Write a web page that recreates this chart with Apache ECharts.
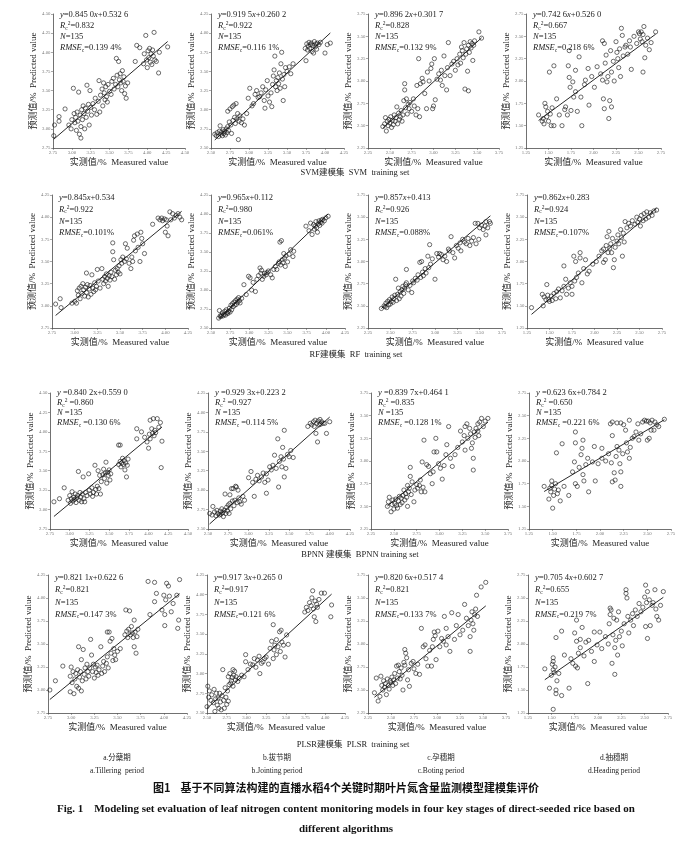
<!DOCTYPE html>
<html><head><meta charset="utf-8">
<script src="https://cdn.jsdelivr.net/npm/echarts/dist/echarts.min.js"></script>
<style>html,body{margin:0;padding:0;background:#fff}#c{width:692px;height:841px}</style>
</head><body><div id="c"></div><script>
// ---------- DATA ----------
const svmTiller=[[2.76,2.91],[2.77,3.05],[2.83,3.10],[2.83,3.16],[2.91,3.26],[2.96,3.05],[2.99,3.00],[3.00,3.12],[3.02,3.53],[3.03,3.20],[3.04,3.08],[3.05,3.15],[3.06,2.98],[3.07,3.22],[3.08,3.10],[3.09,3.48],[3.10,2.93],[3.11,3.18],[3.12,3.03],[3.12,2.88],[3.13,3.25],[3.14,3.12],[3.15,3.30],[3.16,3.20],[3.17,3.00],[3.18,3.27],[3.19,3.15],[3.20,3.57],[3.21,3.23],[3.22,3.32],[3.23,3.05],[3.24,3.50],[3.25,3.28],[3.26,3.18],[3.28,3.33],[3.30,3.25],[3.31,3.40],[3.33,3.19],[3.35,3.36],[3.36,3.63],[3.37,3.22],[3.38,3.44],[3.40,3.52],[3.41,3.30],[3.42,3.60],[3.43,3.47],[3.44,3.38],[3.45,3.55],[3.46,3.42],[3.47,3.35],[3.48,3.58],[3.50,3.49],[3.52,3.45],[3.53,3.62],[3.55,3.66],[3.56,3.52],[3.58,3.58],[3.59,3.92],[3.60,3.70],[3.61,3.55],[3.62,3.88],[3.63,3.64],[3.64,3.72],[3.65,3.60],[3.66,3.50],[3.67,3.76],[3.68,3.62],[3.69,3.68],[3.70,3.46],[3.71,3.56],[3.72,3.40],[3.74,3.60],[3.84,3.88],[3.86,4.09],[3.90,4.06],[3.95,3.85],[3.96,3.98],[3.98,4.22],[3.99,3.90],[4.00,3.80],[4.01,4.02],[4.02,3.93],[4.03,4.05],[4.04,3.87],[4.05,3.98],[4.06,3.84],[4.07,4.03],[4.08,3.95],[4.09,4.26],[4.10,3.90],[4.12,3.88],[4.15,3.73],[4.16,4.00],[4.27,4.07]];
const svmJoint=[[2.55,2.68],[2.57,2.66],[2.58,2.70],[2.60,2.65],[2.61,2.72],[2.62,2.79],[2.63,2.68],[2.64,2.71],[2.65,2.66],[2.66,2.74],[2.67,2.69],[2.68,2.72],[2.69,2.67],[2.70,2.75],[2.71,2.70],[2.72,2.98],[2.72,2.78],[2.73,2.73],[2.74,2.84],[2.75,3.01],[2.76,2.80],[2.77,2.69],[2.78,3.04],[2.79,2.86],[2.80,3.06],[2.81,2.90],[2.82,2.82],[2.83,3.08],[2.84,2.88],[2.85,2.95],[2.86,2.61],[2.87,2.85],[2.88,2.92],[2.90,2.83],[2.92,2.88],[2.94,2.80],[2.97,2.95],[2.99,3.15],[3.01,3.28],[3.04,3.05],[3.06,3.08],[3.08,3.20],[3.10,3.25],[3.12,3.16],[3.14,3.17],[3.16,3.22],[3.18,3.30],[3.20,3.12],[3.21,3.02],[3.22,3.26],[3.24,3.38],[3.25,3.18],[3.27,3.10],[3.29,3.22],[3.30,3.04],[3.31,3.33],[3.32,3.44],[3.33,3.52],[3.34,3.70],[3.35,3.30],[3.36,3.38],[3.37,3.25],[3.38,3.42],[3.39,3.34],[3.40,3.48],[3.41,3.28],[3.42,3.60],[3.43,3.75],[3.44,3.40],[3.45,3.12],[3.46,3.46],[3.47,3.30],[3.48,3.55],[3.50,3.50],[3.53,3.56],[3.55,3.47],[3.58,3.60],[3.74,3.80],[3.75,3.64],[3.76,3.86],[3.77,3.78],[3.78,3.83],[3.79,3.88],[3.80,3.80],[3.81,3.85],[3.82,3.87],[3.83,3.76],[3.84,3.84],[3.85,3.74],[3.86,3.89],[3.87,3.82],[3.88,3.86],[3.89,3.79],[3.90,3.87],[3.92,3.85],[3.94,3.88],[4.00,3.74],[4.03,3.85],[4.07,3.87]];
const svmBoot=[[2.42,2.49],[2.44,2.52],[2.45,2.59],[2.46,2.44],[2.47,2.55],[2.48,2.50],[2.49,2.57],[2.50,2.53],[2.51,2.60],[2.52,2.48],[2.53,2.56],[2.54,2.51],[2.55,2.62],[2.56,2.55],[2.57,2.59],[2.58,2.71],[2.59,2.52],[2.60,2.64],[2.61,2.57],[2.62,2.60],[2.63,2.67],[2.64,2.55],[2.65,2.62],[2.66,2.78],[2.67,2.97],[2.67,2.90],[2.68,2.70],[2.69,2.80],[2.70,2.63],[2.71,2.74],[2.72,2.69],[2.73,2.76],[2.75,2.66],[2.77,2.80],[2.78,2.72],[2.80,2.62],[2.81,2.95],[2.82,2.69],[2.83,3.25],[2.84,2.60],[2.85,2.97],[2.87,3.03],[2.88,2.99],[2.90,2.86],[2.92,2.69],[2.93,3.10],[2.95,3.00],[2.97,3.14],[2.98,3.19],[2.99,2.69],[3.00,2.72],[3.01,3.25],[3.02,2.79],[3.04,3.02],[3.06,3.08],[3.08,3.01],[3.09,3.12],[3.10,2.95],[3.12,3.28],[3.13,3.06],[3.15,2.90],[3.16,3.15],[3.17,3.43],[3.19,3.06],[3.21,3.19],[3.23,3.22],[3.25,3.12],[3.27,3.25],[3.28,3.18],[3.30,3.30],[3.31,3.20],[3.32,3.38],[3.33,3.34],[3.34,3.26],[3.35,3.43],[3.36,2.91],[3.37,3.30],[3.38,3.36],[3.39,3.11],[3.40,2.89],[3.40,3.40],[3.41,3.32],[3.42,3.44],[3.43,3.37],[3.44,3.42],[3.45,3.23],[3.46,3.40],[3.47,3.45],[3.52,3.55],[3.55,3.48]];
const svmHead=[[1.39,1.62],[1.43,1.55],[1.44,1.58],[1.45,1.52],[1.46,1.75],[1.47,1.71],[1.48,1.60],[1.49,1.66],[1.50,1.55],[1.51,2.10],[1.52,1.63],[1.53,1.50],[1.54,1.70],[1.56,1.50],[1.56,2.17],[1.59,1.80],[1.62,1.62],[1.65,1.50],[1.68,1.68],[1.69,1.71],[1.71,1.62],[1.72,2.17],[1.73,2.34],[1.73,2.04],[1.74,1.93],[1.75,1.67],[1.77,1.99],[1.78,1.82],[1.80,1.88],[1.80,2.12],[1.82,1.66],[1.84,2.27],[1.86,1.82],[1.87,1.50],[1.90,1.96],[1.91,2.01],[1.94,2.14],[1.95,1.73],[1.98,2.05],[2.01,1.93],[2.04,2.16],[2.08,2.08],[2.10,2.45],[2.10,2.01],[2.11,1.80],[2.12,2.42],[2.12,1.69],[2.13,2.20],[2.14,2.29],[2.15,1.99],[2.16,2.05],[2.17,1.58],[2.18,1.78],[2.19,2.34],[2.20,2.10],[2.20,1.71],[2.22,2.22],[2.23,2.00],[2.25,2.44],[2.26,2.32],[2.27,2.25],[2.28,2.15],[2.29,2.36],[2.30,2.05],[2.31,2.59],[2.32,2.51],[2.33,2.28],[2.35,2.38],[2.36,2.40],[2.38,2.30],[2.40,2.45],[2.41,2.38],[2.42,2.13],[2.45,2.50],[2.48,2.42],[2.50,2.55],[2.51,2.53],[2.52,2.47],[2.53,2.55],[2.54,2.44],[2.55,2.10],[2.55,2.52],[2.56,2.61],[2.57,2.26],[2.58,2.40],[2.60,2.48],[2.62,2.35],[2.64,2.43],[2.69,2.55]];
const rfTiller=[[2.79,3.02],[2.84,3.08],[2.85,2.98],[2.97,3.03],[3.00,3.05],[3.02,3.03],[3.03,3.17],[3.04,3.12],[3.05,3.20],[3.06,3.08],[3.07,3.22],[3.08,3.14],[3.09,3.25],[3.10,3.18],[3.11,3.11],[3.12,3.21],[3.13,3.37],[3.13,3.15],[3.14,3.24],[3.15,3.10],[3.16,3.19],[3.17,3.23],[3.18,3.13],[3.19,3.35],[3.20,3.20],[3.21,3.16],[3.22,3.26],[3.23,3.18],[3.24,3.22],[3.25,3.41],[3.26,3.28],[3.28,3.20],[3.30,3.42],[3.31,3.30],[3.32,3.25],[3.33,3.33],[3.34,3.28],[3.35,3.36],[3.36,3.31],[3.37,3.22],[3.38,3.34],[3.39,3.29],[3.40,3.38],[3.41,3.33],[3.42,3.71],[3.42,3.61],[3.43,3.52],[3.44,3.30],[3.45,3.40],[3.46,3.35],[3.47,3.42],[3.48,3.38],[3.49,3.45],[3.50,3.36],[3.51,3.52],[3.52,3.48],[3.53,3.55],[3.55,3.50],[3.56,3.70],[3.57,3.53],[3.58,3.65],[3.60,3.48],[3.62,3.42],[3.63,3.55],[3.64,3.50],[3.65,3.74],[3.66,3.79],[3.67,3.62],[3.69,3.81],[3.70,3.66],[3.72,3.50],[3.73,3.83],[3.74,3.76],[3.75,3.70],[3.77,3.59],[3.86,3.92],[3.92,3.99],[3.94,3.97],[3.96,3.99],[3.97,3.96],[3.99,3.98],[4.00,3.83],[4.01,3.97],[4.02,3.90],[4.03,3.79],[4.05,4.06],[4.06,3.97],[4.08,4.04],[4.10,3.99],[4.12,4.02],[4.14,4.04],[4.16,4.00],[4.18,3.97]];
const rfJoint=[[2.60,2.63],[2.61,2.73],[2.62,2.66],[2.63,2.65],[2.64,2.67],[2.65,2.70],[2.66,2.66],[2.67,2.68],[2.68,2.72],[2.69,2.67],[2.70,2.74],[2.71,2.70],[2.72,2.69],[2.73,2.72],[2.74,2.76],[2.75,2.71],[2.76,2.80],[2.77,2.74],[2.78,2.82],[2.79,2.78],[2.80,2.84],[2.81,2.80],[2.82,2.86],[2.83,2.81],[2.84,2.88],[2.85,2.84],[2.86,2.90],[2.87,2.86],[2.88,2.83],[2.90,2.89],[2.93,3.07],[2.96,2.94],[2.99,3.18],[3.01,3.16],[3.03,3.00],[3.05,3.10],[3.08,2.98],[3.10,3.14],[3.12,3.19],[3.14,3.29],[3.15,3.22],[3.16,3.26],[3.17,3.14],[3.19,3.18],[3.20,3.22],[3.22,3.20],[3.23,3.23],[3.25,3.25],[3.28,3.20],[3.30,3.16],[3.32,3.27],[3.34,3.31],[3.36,3.27],[3.38,3.35],[3.39,3.37],[3.40,3.63],[3.41,3.33],[3.42,3.65],[3.43,3.40],[3.44,3.36],[3.45,3.48],[3.46,3.42],[3.47,3.31],[3.48,3.45],[3.50,3.37],[3.52,3.47],[3.54,3.53],[3.57,3.44],[3.58,3.51],[3.74,3.84],[3.78,3.78],[3.80,3.88],[3.82,3.73],[3.84,3.86],[3.85,3.80],[3.86,3.84],[3.87,3.90],[3.88,3.82],[3.89,3.76],[3.90,3.87],[3.91,3.91],[3.92,3.85],[3.93,3.89],[3.94,3.92],[3.95,3.88],[3.96,3.93],[3.98,3.91],[4.00,3.95],[4.03,3.97]];
const rfBoot=[[2.40,2.47],[2.43,2.50],[2.44,2.49],[2.45,2.53],[2.46,2.48],[2.47,2.55],[2.48,2.51],[2.49,2.57],[2.50,2.52],[2.51,2.55],[2.52,2.60],[2.53,2.54],[2.54,2.58],[2.55,2.62],[2.56,2.80],[2.57,2.56],[2.58,2.63],[2.59,2.70],[2.60,2.58],[2.61,2.66],[2.62,2.61],[2.63,2.68],[2.64,2.72],[2.65,2.64],[2.66,2.70],[2.67,2.74],[2.68,2.91],[2.68,2.76],[2.70,2.68],[2.72,2.73],[2.74,2.65],[2.75,2.78],[2.76,2.76],[2.78,2.81],[2.80,2.79],[2.81,2.85],[2.83,2.99],[2.84,2.82],[2.85,3.00],[2.86,2.88],[2.87,2.84],[2.89,2.92],[2.90,2.87],[2.92,3.06],[2.93,2.93],[2.94,3.19],[2.95,2.97],[2.97,3.03],[3.00,2.80],[3.02,3.09],[3.04,3.05],[3.05,3.09],[3.07,3.08],[3.09,3.02],[3.11,3.06],[3.13,3.00],[3.15,3.14],[3.16,3.12],[3.18,3.28],[3.20,3.10],[3.22,3.04],[3.24,3.18],[3.26,3.15],[3.28,3.21],[3.29,3.12],[3.31,3.25],[3.33,3.22],[3.35,3.20],[3.37,3.26],[3.39,3.18],[3.41,3.23],[3.43,3.27],[3.45,3.43],[3.46,3.20],[3.48,3.43],[3.49,3.25],[3.50,3.38],[3.52,3.41],[3.54,3.36],[3.56,3.40],[3.57,3.45],[3.57,3.30],[3.59,3.38],[3.61,3.45],[3.62,3.43]];
const rfHead=[[1.30,1.48],[1.43,1.50],[1.42,1.63],[1.44,1.60],[1.46,1.57],[1.47,1.74],[1.48,1.62],[1.49,1.57],[1.50,1.55],[1.52,1.61],[1.53,1.56],[1.55,1.64],[1.57,1.58],[1.58,1.66],[1.60,1.69],[1.62,1.59],[1.64,1.67],[1.66,1.72],[1.66,1.95],[1.68,1.80],[1.69,1.63],[1.71,1.70],[1.73,1.76],[1.75,1.72],[1.75,1.63],[1.77,2.06],[1.78,1.78],[1.79,2.00],[1.80,1.82],[1.82,1.87],[1.84,2.04],[1.84,2.10],[1.86,1.76],[1.88,1.92],[1.90,2.02],[1.92,1.86],[1.94,1.89],[1.98,1.97],[2.02,2.00],[2.05,2.06],[2.08,2.12],[2.10,2.14],[2.10,1.99],[2.12,2.02],[2.13,2.18],[2.14,2.28],[2.15,2.10],[2.16,2.34],[2.17,2.15],[2.18,2.20],[2.19,2.10],[2.20,2.26],[2.21,1.93],[2.22,2.02],[2.23,2.16],[2.25,2.23],[2.26,2.30],[2.27,2.20],[2.29,2.36],[2.30,2.27],[2.31,2.06],[2.32,2.32],[2.33,2.22],[2.34,2.45],[2.36,2.38],[2.38,2.43],[2.40,2.40],[2.42,2.46],[2.45,2.42],[2.47,2.50],[2.48,2.44],[2.50,2.48],[2.51,2.40],[2.52,2.52],[2.54,2.46],[2.55,2.54],[2.57,2.48],[2.58,2.56],[2.60,2.50],[2.62,2.55],[2.64,2.52],[2.66,2.57],[2.69,2.58]];
const bpTiller=[[2.80,3.10],[2.87,3.14],[2.93,3.28],[2.98,3.12],[3.00,3.18],[3.01,3.08],[3.02,3.14],[3.03,3.23],[3.04,3.11],[3.05,3.16],[3.06,3.13],[3.07,3.20],[3.08,3.09],[3.09,3.15],[3.10,3.18],[3.11,3.49],[3.12,3.12],[3.13,3.22],[3.14,3.16],[3.15,3.10],[3.16,3.20],[3.17,3.42],[3.18,3.14],[3.19,3.10],[3.20,3.22],[3.22,3.18],[3.24,3.46],[3.25,3.25],[3.26,3.20],[3.28,3.28],[3.29,3.17],[3.30,3.22],[3.32,3.57],[3.33,3.26],[3.34,3.20],[3.35,3.30],[3.36,3.50],[3.37,3.27],[3.38,3.44],[3.39,3.20],[3.40,3.36],[3.42,3.45],[3.43,3.52],[3.44,3.40],[3.45,3.47],[3.46,3.61],[3.47,3.34],[3.48,3.48],[3.49,3.44],[3.50,3.51],[3.51,3.38],[3.52,3.46],[3.62,3.83],[3.62,3.58],[3.64,3.83],[3.64,3.62],[3.65,3.55],[3.66,3.60],[3.67,3.66],[3.68,3.58],[3.69,3.63],[3.70,3.51],[3.71,3.60],[3.72,3.42],[3.73,3.57],[3.74,3.65],[3.85,3.91],[3.85,4.04],[3.91,4.00],[3.95,3.93],[3.98,3.87],[4.00,3.79],[4.01,3.97],[4.02,3.91],[4.02,4.15],[4.04,4.04],[4.05,3.98],[4.06,4.17],[4.07,3.95],[4.08,4.02],[4.09,3.99],[4.11,4.17],[4.13,4.06],[4.15,4.12],[4.16,3.54],[4.17,3.88]];
const bpJoint=[[2.52,2.70],[2.55,2.68],[2.56,2.79],[2.58,2.72],[2.60,2.67],[2.61,2.74],[2.62,2.70],[2.64,2.68],[2.65,2.73],[2.66,2.69],[2.67,2.76],[2.68,2.71],[2.69,2.66],[2.70,2.74],[2.71,2.95],[2.72,2.70],[2.73,2.78],[2.74,2.73],[2.75,2.81],[2.76,2.70],[2.77,2.94],[2.77,2.83],[2.78,2.76],[2.79,3.02],[2.80,2.86],[2.81,3.02],[2.82,2.80],[2.83,2.87],[2.84,3.05],[2.85,3.04],[2.86,2.84],[2.87,3.00],[2.88,2.90],[2.89,2.85],[2.91,2.82],[2.93,2.92],[2.95,2.87],[3.00,3.16],[3.03,3.24],[3.05,3.10],[3.07,2.92],[3.09,3.14],[3.11,3.19],[3.13,3.12],[3.16,3.17],[3.18,3.22],[3.20,3.10],[3.22,3.21],[3.22,2.96],[3.24,3.13],[3.26,3.30],[3.28,3.26],[3.30,3.32],[3.32,3.45],[3.34,3.28],[3.36,3.66],[3.37,3.04],[3.38,3.37],[3.40,3.43],[3.41,3.30],[3.42,3.55],[3.43,3.40],[3.44,3.77],[3.44,3.17],[3.46,3.28],[3.48,3.46],[3.50,3.43],[3.52,3.51],[3.55,3.42],[3.73,3.82],[3.76,3.86],[3.78,3.84],[3.80,3.88],[3.81,3.82],[3.82,3.90],[3.83,3.73],[3.84,3.86],[3.85,3.62],[3.86,3.89],[3.87,3.84],[3.88,3.91],[3.89,3.85],[3.90,3.88],[3.92,3.86],[3.94,3.86],[3.96,3.73],[4.00,3.88]];
const bpBoot=[[2.43,2.50],[2.44,2.55],[2.45,2.60],[2.47,2.44],[2.48,2.52],[2.49,2.57],[2.50,2.47],[2.51,2.53],[2.52,2.58],[2.53,2.51],[2.54,2.48],[2.55,2.56],[2.56,2.61],[2.57,2.52],[2.58,2.59],[2.59,2.54],[2.60,2.62],[2.61,2.68],[2.62,2.57],[2.63,2.64],[2.64,2.60],[2.65,2.50],[2.65,2.73],[2.66,2.66],[2.67,2.70],[2.68,2.83],[2.68,2.93],[2.69,2.63],[2.70,2.77],[2.72,2.55],[2.73,2.68],[2.75,2.74],[2.76,2.70],[2.78,2.73],[2.79,2.79],[2.80,2.66],[2.81,2.99],[2.82,2.71],[2.83,3.23],[2.84,2.66],[2.86,2.96],[2.88,2.94],[2.90,2.86],[2.92,2.75],[2.93,2.88],[2.94,3.10],[2.96,3.25],[2.97,3.10],[2.99,2.97],[3.01,2.92],[3.03,2.80],[3.05,2.95],[3.07,3.07],[3.08,3.18],[3.10,3.38],[3.12,3.03],[3.14,2.94],[3.17,3.07],[3.20,3.15],[3.23,3.33],[3.25,3.21],[3.27,3.28],[3.28,3.12],[3.28,3.38],[3.30,3.41],[3.31,3.25],[3.33,3.36],[3.34,3.30],[3.35,3.14],[3.36,3.20],[3.37,3.03],[3.37,2.90],[3.38,3.32],[3.39,3.26],[3.40,3.36],[3.42,3.41],[3.42,3.33],[3.43,3.28],[3.44,3.43],[3.46,3.47],[3.48,3.38],[3.50,3.44],[3.53,3.47]];
const bpHead=[[1.41,1.72],[1.46,1.58],[1.47,1.70],[1.48,1.66],[1.49,1.78],[1.49,1.73],[1.50,1.48],[1.51,1.62],[1.52,1.69],[1.53,1.75],[1.54,2.09],[1.55,1.64],[1.56,1.68],[1.58,1.56],[1.60,2.19],[1.62,1.72],[1.67,1.62],[1.71,1.88],[1.73,1.99],[1.74,2.20],[1.74,2.32],[1.74,1.75],[1.76,1.72],[1.78,1.93],[1.80,2.07],[1.81,2.14],[1.82,2.23],[1.82,1.85],[1.83,1.78],[1.85,1.96],[1.87,2.03],[1.88,1.66],[1.92,1.99],[1.94,2.16],[1.95,1.78],[1.98,1.97],[2.02,2.03],[2.02,2.14],[2.06,2.00],[2.09,2.08],[2.11,2.41],[2.12,1.98],[2.13,2.43],[2.13,2.28],[2.13,1.77],[2.15,1.87],[2.16,1.79],[2.17,2.05],[2.18,2.42],[2.18,2.16],[2.20,2.12],[2.21,1.97],[2.22,2.42],[2.22,1.88],[2.22,1.72],[2.24,2.08],[2.25,2.40],[2.27,2.34],[2.28,2.20],[2.29,2.10],[2.31,2.45],[2.31,2.03],[2.32,2.15],[2.34,2.25],[2.36,2.27],[2.38,2.32],[2.40,2.41],[2.41,2.23],[2.43,2.30],[2.45,2.43],[2.47,2.45],[2.49,2.44],[2.50,2.23],[2.51,2.44],[2.52,2.25],[2.53,2.42],[2.54,2.34],[2.55,2.45],[2.57,2.34],[2.58,2.43],[2.60,2.40],[2.62,2.38],[2.68,2.46]];
const plTiller=[[2.77,3.00],[2.83,3.10],[2.91,3.26],[2.99,2.98],[2.99,3.15],[3.00,3.25],[3.01,3.08],[3.02,3.20],[3.03,2.96],[3.04,3.12],[3.05,3.18],[3.06,3.04],[3.07,3.22],[3.08,3.47],[3.08,3.02],[3.09,3.14],[3.10,3.20],[3.11,2.99],[3.11,3.33],[3.12,3.10],[3.13,3.44],[3.14,3.17],[3.15,3.24],[3.16,3.12],[3.17,3.28],[3.18,3.20],[3.19,3.15],[3.20,3.24],[3.21,3.55],[3.22,3.38],[3.23,3.20],[3.24,3.28],[3.25,3.13],[3.26,3.25],[3.27,3.19],[3.28,3.27],[3.29,3.16],[3.30,3.22],[3.32,3.47],[3.33,3.18],[3.34,3.26],[3.35,3.31],[3.36,3.20],[3.38,3.29],[3.39,3.63],[3.39,3.36],[3.40,3.24],[3.41,3.63],[3.42,3.53],[3.43,3.40],[3.44,3.56],[3.45,3.32],[3.46,3.45],[3.47,3.38],[3.48,3.33],[3.50,3.42],[3.53,3.45],[3.58,3.60],[3.59,3.87],[3.60,3.64],[3.61,3.57],[3.62,3.66],[3.63,3.86],[3.64,3.60],[3.65,3.69],[3.66,3.62],[3.67,3.57],[3.68,3.76],[3.68,3.47],[3.69,3.63],[3.70,3.40],[3.71,3.58],[3.72,3.66],[3.83,4.18],[3.85,3.82],[3.90,3.96],[3.90,4.17],[3.92,4.05],[3.98,3.87],[4.00,4.03],[4.01,3.82],[4.01,3.70],[4.02,3.98],[4.03,4.16],[4.05,4.13],[4.06,4.02],[4.08,3.85],[4.10,3.94],[4.14,4.03],[4.15,3.67],[4.16,3.76],[4.17,4.20]];
const plJoint=[[2.50,2.58],[2.51,2.84],[2.52,2.70],[2.53,2.78],[2.55,2.66],[2.56,2.73],[2.58,2.63],[2.59,2.80],[2.60,2.52],[2.61,2.68],[2.62,2.75],[2.63,2.60],[2.64,2.69],[2.65,2.56],[2.66,2.75],[2.67,2.64],[2.68,2.54],[2.69,2.72],[2.70,3.05],[2.71,2.66],[2.72,2.56],[2.73,2.82],[2.74,2.70],[2.75,2.61],[2.76,2.78],[2.77,2.65],[2.77,2.96],[2.78,2.86],[2.79,3.00],[2.80,2.88],[2.81,2.91],[2.82,2.95],[2.83,3.05],[2.83,2.84],[2.84,2.98],[2.85,3.03],[2.86,2.92],[2.87,2.96],[2.89,2.90],[2.91,2.94],[2.94,2.98],[2.97,2.96],[2.99,3.24],[2.99,3.15],[3.02,3.05],[3.05,3.12],[3.08,3.11],[3.10,3.19],[3.12,3.08],[3.14,3.17],[3.16,3.22],[3.17,3.00],[3.19,3.13],[3.21,3.15],[3.23,3.19],[3.25,3.21],[3.28,3.12],[3.30,3.32],[3.32,3.41],[3.34,3.62],[3.34,3.19],[3.35,3.30],[3.36,3.36],[3.38,3.43],[3.38,3.24],[3.40,3.34],[3.42,3.53],[3.43,3.28],[3.44,3.55],[3.45,3.40],[3.47,3.36],[3.49,3.21],[3.51,3.49],[3.53,3.37],[3.74,3.78],[3.76,3.84],[3.78,3.80],[3.80,3.90],[3.82,3.86],[3.83,3.96],[3.84,4.05],[3.85,3.82],[3.86,3.72],[3.87,3.92],[3.88,3.66],[3.89,3.88],[3.90,3.84],[3.92,3.94],[3.95,4.02],[3.99,4.02],[4.07,3.72],[4.08,3.87]];
const plBoot=[[2.32,2.47],[2.34,2.63],[2.36,2.38],[2.38,2.43],[2.39,2.65],[2.40,2.55],[2.41,2.50],[2.42,2.60],[2.43,2.53],[2.44,2.57],[2.45,2.45],[2.46,2.62],[2.47,2.55],[2.48,2.51],[2.49,2.60],[2.50,2.58],[2.51,2.64],[2.52,2.55],[2.53,2.61],[2.54,2.68],[2.55,2.57],[2.56,2.76],[2.57,2.63],[2.58,2.77],[2.59,2.70],[2.60,2.62],[2.61,2.74],[2.62,2.66],[2.63,2.50],[2.64,2.80],[2.65,2.77],[2.65,2.94],[2.66,2.90],[2.67,2.85],[2.68,2.61],[2.69,2.72],[2.70,2.54],[2.72,2.79],[2.74,2.81],[2.75,2.73],[2.77,2.68],[2.79,2.78],[2.81,2.67],[2.83,3.17],[2.85,2.97],[2.87,2.99],[2.88,2.84],[2.90,2.76],[2.92,2.93],[2.94,2.76],[2.95,2.97],[2.96,3.05],[2.97,3.13],[2.98,3.09],[2.99,2.83],[3.01,3.14],[3.03,2.97],[3.05,3.06],[3.07,3.03],[3.08,3.30],[3.10,3.17],[3.10,2.99],[3.12,3.08],[3.14,2.92],[3.16,3.34],[3.19,3.05],[3.21,3.20],[3.23,3.32],[3.25,3.10],[3.28,3.15],[3.30,3.43],[3.32,3.28],[3.34,3.20],[3.36,2.92],[3.36,3.08],[3.37,3.26],[3.38,3.35],[3.39,3.22],[3.40,3.15],[3.41,3.32],[3.42,3.38],[3.43,3.53],[3.44,3.30],[3.48,3.62],[3.53,3.67]];
const plHead=[[1.43,1.73],[1.48,1.52],[1.50,1.66],[1.51,1.78],[1.52,1.85],[1.52,1.81],[1.52,1.72],[1.52,1.29],[1.53,1.69],[1.54,1.75],[1.55,1.50],[1.55,1.46],[1.55,2.07],[1.56,1.60],[1.58,1.68],[1.61,1.44],[1.61,2.14],[1.64,1.88],[1.69,1.52],[1.71,1.84],[1.73,1.79],[1.75,2.12],[1.76,1.76],[1.77,2.03],[1.77,2.26],[1.78,1.74],[1.79,1.90],[1.81,1.96],[1.81,2.05],[1.83,2.18],[1.85,1.87],[1.87,2.02],[1.89,1.57],[1.90,2.04],[1.93,1.92],[1.96,2.13],[1.96,1.81],[1.99,1.99],[2.02,2.13],[2.04,1.95],[2.08,2.08],[2.11,2.00],[2.12,2.22],[2.13,2.32],[2.13,2.39],[2.14,2.37],[2.15,1.79],[2.16,2.10],[2.17,2.28],[2.18,1.96],[2.18,1.67],[2.19,2.04],[2.20,2.26],[2.21,1.88],[2.22,2.35],[2.23,2.08],[2.25,2.14],[2.26,1.98],[2.28,2.22],[2.30,2.59],[2.30,2.55],[2.31,2.50],[2.32,2.30],[2.33,2.12],[2.35,2.26],[2.37,2.33],[2.38,2.20],[2.40,2.37],[2.42,2.30],[2.44,2.44],[2.46,2.35],[2.48,2.40],[2.50,2.51],[2.51,2.64],[2.51,2.19],[2.52,2.45],[2.53,2.57],[2.53,2.06],[2.55,2.48],[2.56,2.20],[2.58,2.42],[2.59,2.45],[2.61,2.59],[2.62,2.38],[2.63,2.30],[2.65,2.26],[2.67,2.42],[2.70,2.57]];

// fitted equations (slope, intercept) as printed
const slopes=[0.8450,0.9195,0.8962,0.7426, 0.845,0.965,0.857,0.862, 0.8402,0.9293,0.8397,0.6236, 0.8211,0.9173,0.8206,0.7054];
const intercepts=[0.5326,0.2602,0.3017,0.5260, 0.534,0.112,0.413,0.283, 0.5590,0.2232,0.4641,0.7842, 0.6226,0.2650,0.5174,0.6027];
const eqTexts=['y=0.845 0x+0.532 6','y=0.919 5x+0.260 2','y=0.896 2x+0.301 7','y=0.742 6x+0.526 0',
 'y=0.845x+0.534','y=0.965x+0.112','y=0.857x+0.413','y=0.862x+0.283',
 'y =0.840 2x+0.559 0','y =0.929 3x+0.223 2','y =0.839 7x+0.464 1','y =0.623 6x+0.784 2',
 'y=0.821 1x+0.622 6','y=0.917 3x+0.265 0','y=0.820 6x+0.517 4','y=0.705 4x+0.602 7'];
const r2Texts=['0.832','0.922','0.828','0.667','0.922','0.980','0.926','0.924','0.860','0.927','0.835','0.650','0.821','0.917','0.821','0.655'];
const rmseTexts=['0.139 4%','0.116 1%','0.132 9%','0.218 6%','0.101%','0.061%','0.088%','0.107%','0.130 6%','0.114 5%','0.128 1%','0.221 6%','0.147 3%','0.121 6%','0.133 7%','0.219 7%'];
const nValue='135';
const axisMins=[2.75,2.5,2.25,1.25, 2.75,2.5,2.25,1.25, 2.75,2.5,2.25,1.25, 2.75,2.5,2.25,1.25];
const axisMaxs=[4.5,4.25,3.75,2.75, 4.25,4.25,3.75,2.75, 4.5,4.25,3.75,2.75, 4.25,4.25,3.75,2.75];
const rowCaptions=['SVM建模集  SVM  training set','RF建模集  RF  training set','BPNN 建模集  BPNN training set','PLSR建模集  PLSR  training set'];
const stageCN=['a.分蘖期','b.拔节期','c.孕穗期','d.抽穗期'];
const stageEN=['a.Tillering  period','b.Jointing period','c.Boting period','d.Heading period'];
const xName='实测值/%  Measured value';
const yName='预测值/%  Predicted value';
const titleCN='图1    基于不同算法构建的直播水稻4个关键时期叶片氮含量监测模型建模集评价';
const titleEN1='Fig. 1    Modeling set evaluation of leaf nitrogen content monitoring models in four key stages of direct-seeded rice based on';
const titleEN2='different algorithms';
const panels=[svmTiller,svmJoint,svmBoot,svmHead,rfTiller,rfJoint,rfBoot,rfHead,bpTiller,bpJoint,bpBoot,bpHead,plTiller,plJoint,plBoot,plHead];

// ---------- LAYOUT ----------
const boxes=[
 [53,14,132,134],[211,14,133,134],[368,14,131,134],[526,14,135,134],
 [52,195,136,133],[211,195,134,133],[368,195,134,133],[527,195,135,133],
 [50,393,138,136],[208,393,142,136],[371,393,137,136],[529,393,142,136],
 [48,575,139,138],[207,575,138,138],[368,575,138,138],[528,575,140,138]];
const rowAnnTop=[15,198,393,578];
const rowAnnStep=[11,11.7,10,12.2];
const captionY=[173,355,555,745];
const captionX=[355,356,360,353];
const stageX=[117,277,441,614];

const SERIF='"Liberation Serif","Times New Roman","Noto Sans CJK SC",serif';
const ink='#222';

const grids=[],xAxes=[],yAxes=[],series=[],graphics=[];
panels.forEach((pts,i)=>{
  const b=boxes[i];
  grids.push({left:b[0],top:b[1],width:b[2],height:b[3],containLabel:false});
  const axCommon={type:'value',gridIndex:i,min:axisMins[i],max:axisMaxs[i],interval:0.25,
    axisLine:{show:true,onZero:false,lineStyle:{color:'#333',width:0.7}},
    axisTick:{show:true,length:2,lineStyle:{color:'#555',width:0.5}},
    axisLabel:{show:true,fontSize:4.8,color:'#777',fontFamily:SERIF,margin:2.5,hideOverlap:false,formatter:v=>v.toFixed(2)},
    splitLine:{show:false},
    nameTextStyle:{fontSize:9,color:ink,fontFamily:SERIF}};
  xAxes.push(Object.assign({},axCommon,{name:xName,nameLocation:'middle',nameGap:10}));
  yAxes.push(Object.assign({},axCommon,{name:yName,nameLocation:'middle',nameGap:13,nameRotate:90}));
  series.push({type:'scatter',xAxisIndex:i,yAxisIndex:i,data:pts,symbol:'circle',symbolSize:4.2,
    itemStyle:{color:'rgba(255,255,255,0)',borderColor:'#111',borderWidth:0.75},silent:true,z:3});
  const xs=pts.map(p=>p[0]);
  const x0=Math.min(...xs),x1=Math.max(...xs);
  series.push({type:'line',xAxisIndex:i,yAxisIndex:i,symbol:'none',silent:true,z:4,
    data:[[x0,slopes[i]*x0+intercepts[i]],[x1,slopes[i]*x1+intercepts[i]]],
    lineStyle:{color:'#111',width:0.9}});
  // annotation
  const row=Math.floor(i/4);
  const tx=b[0]+7, t0=rowAnnTop[row], st=rowAnnStep[row];
  const bp=row===2;
  const eqRich='{i|y}{n|'+eqTexts[i].slice(1).replace('x','}{'+(bp?'n':'i')+'|x}{n|')+'}';
  const lines=[eqRich,
    '{i|R}{sub|c}{sup|2}{n|'+(bp?' =':'=')+r2Texts[i]+'}',
    '{i|N}{n|'+(bp?' =':'=')+nValue+'}',
    '{i|RMSE}{sub|c}{n|'+(bp?' =':'=')+rmseTexts[i]+'}'];
  const rich={
    i:{fontStyle:'italic',fontSize:8.5,fontFamily:SERIF,fill:ink,lineHeight:10},
    n:{fontSize:8.5,fontFamily:SERIF,fill:ink,lineHeight:10},
    sub:{fontSize:5.5,fontFamily:SERIF,fill:ink,verticalAlign:'bottom'},
    sup:{fontSize:5.5,fontFamily:SERIF,fill:ink,verticalAlign:'top'}};
  lines.forEach((ln,k)=>{
    graphics.push({type:'text',x:tx,y:t0+k*st,z:10,silent:true,
      style:{text:ln,rich:rich,verticalAlign:'middle',align:'left',fill:ink,fontSize:8.5,fontFamily:SERIF}});
  });
});
rowCaptions.forEach((t,r)=>{
  graphics.push({type:'text',x:captionX[r],y:captionY[r],silent:true,
    style:{text:t,fontSize:8.5,fontFamily:SERIF,fill:ink,align:'center',verticalAlign:'middle'}});
});
stageCN.forEach((t,k)=>{
  graphics.push({type:'text',x:stageX[k],y:758,silent:true,style:{text:t,fontSize:7.5,fontFamily:SERIF,fill:ink,align:'center',verticalAlign:'middle'}});
  graphics.push({type:'text',x:stageX[k],y:771,silent:true,style:{text:stageEN[k],fontSize:7.5,fontFamily:SERIF,fill:ink,align:'center',verticalAlign:'middle'}});
});
graphics.push({type:'text',x:346,y:788,silent:true,style:{text:titleCN,fontSize:11,fontWeight:'bold',fontFamily:'"Noto Sans CJK SC",sans-serif',fill:'#111',align:'center',verticalAlign:'middle'}});
graphics.push({type:'text',x:346,y:809,silent:true,style:{text:titleEN1,fontSize:11,fontWeight:'bold',fontFamily:SERIF,fill:'#111',align:'center',verticalAlign:'middle'}});
graphics.push({type:'text',x:346,y:829,silent:true,style:{text:titleEN2,fontSize:11,fontWeight:'bold',fontFamily:SERIF,fill:'#111',align:'center',verticalAlign:'middle'}});

const chart=echarts.init(document.getElementById('c'),null,{renderer:'canvas'});
chart.setOption({animation:false,backgroundColor:'#fff',grid:grids,xAxis:xAxes,yAxis:yAxes,series:series,graphic:graphics});
</script></body></html>
